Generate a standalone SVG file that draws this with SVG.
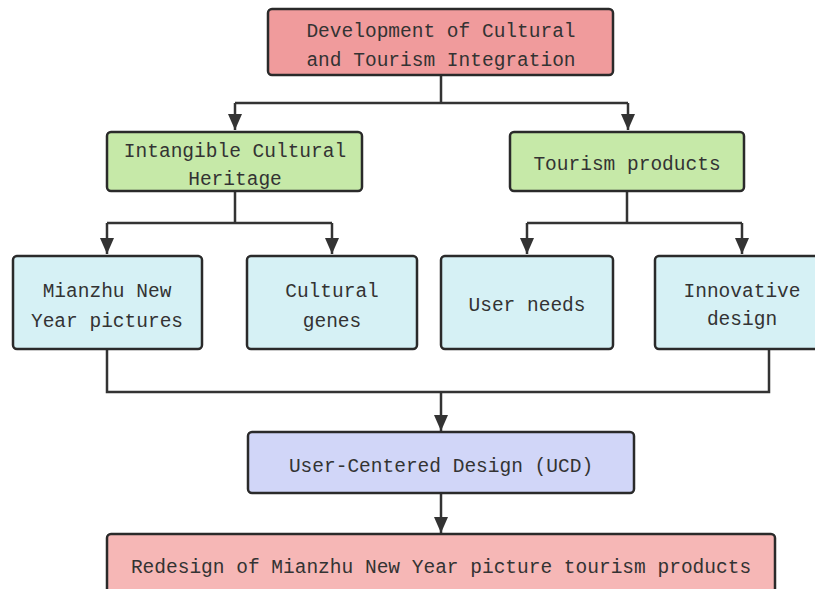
<svg xmlns="http://www.w3.org/2000/svg" width="815" height="589" viewBox="0 0 815 589">
<style>
.box{stroke:#2a2a2a;stroke-width:2.5}
.red{fill:#f09b9c}
.green{fill:#c6e9a8}
.blue{fill:#d6f1f5}
.lav{fill:#d1d6f8}
.pink{fill:#f6b7b6}
.t{font-family:"Liberation Mono","DejaVu Sans Mono",monospace;font-size:19.5px;fill:#333;text-anchor:middle}
.c{fill:none;stroke:#333;stroke-width:2.5}
</style>
<defs>
<marker id="ah" markerUnits="userSpaceOnUse" markerWidth="16" markerHeight="14" viewBox="0 0 16 14" refX="16" refY="7" orient="auto">
<path d="M0,0 L16,7 L0,14 Z" fill="#333"/>
</marker>
</defs>
<rect width="815" height="589" fill="#fff"/>
<g id="connectors">
<path class="c" d="M441,75 V103 M235,103 H628"/>
<path class="c" d="M235,103 V130" marker-end="url(#ah)"/>
<path class="c" d="M628,103 V130" marker-end="url(#ah)"/>
<path class="c" d="M235,191 V223 M107,223 H332"/>
<path class="c" d="M107,223 V254" marker-end="url(#ah)"/>
<path class="c" d="M332,223 V254" marker-end="url(#ah)"/>
<path class="c" d="M627,191 V223 M527,223 H742"/>
<path class="c" d="M527,223 V254" marker-end="url(#ah)"/>
<path class="c" d="M742,223 V254" marker-end="url(#ah)"/>
<path class="c" d="M107,349 V392 H769 V349"/>
<path class="c" d="M441,392 V431" marker-end="url(#ah)"/>
<path class="c" d="M441,493 V533" marker-end="url(#ah)"/>
</g>
<g id="n-top">
<rect class="box red" x="268" y="9" width="345" height="66" rx="4"/>
<text class="t" x="441" y="37">Development of Cultural</text>
<text class="t" x="441" y="66">and Tourism Integration</text>
</g>
<g id="n-ich">
<rect class="box green" x="107" y="132" width="255" height="59" rx="4"/>
<text class="t" x="235" y="157">Intangible Cultural</text>
<text class="t" x="235" y="185">Heritage</text>
</g>
<g id="n-tour">
<rect class="box green" x="510" y="132" width="234" height="59" rx="4"/>
<text class="t" x="627" y="170">Tourism products</text>
</g>
<g id="n-mianzhu">
<rect class="box blue" x="13" y="256" width="189" height="93" rx="4"/>
<text class="t" x="107" y="297">Mianzhu New</text>
<text class="t" x="107" y="327">Year pictures</text>
</g>
<g id="n-genes">
<rect class="box blue" x="247" y="256" width="170" height="93" rx="4"/>
<text class="t" x="332" y="297">Cultural</text>
<text class="t" x="332" y="327">genes</text>
</g>
<g id="n-needs">
<rect class="box blue" x="441" y="256" width="172" height="93" rx="4"/>
<text class="t" x="527" y="311">User needs</text>
</g>
<g id="n-innov">
<rect class="box blue" x="655" y="256" width="174" height="93" rx="4"/>
<text class="t" x="742" y="297">Innovative</text>
<text class="t" x="742" y="325">design</text>
</g>
<g id="n-ucd">
<rect class="box lav" x="248" y="432" width="386" height="61" rx="4"/>
<text class="t" x="441" y="472">User-Centered Design (UCD)</text>
</g>
<g id="n-redesign">
<rect class="box pink" x="107" y="534" width="668" height="70" rx="4"/>
<text class="t" x="441" y="573">Redesign of Mianzhu New Year picture tourism products</text>
</g>
</svg>
